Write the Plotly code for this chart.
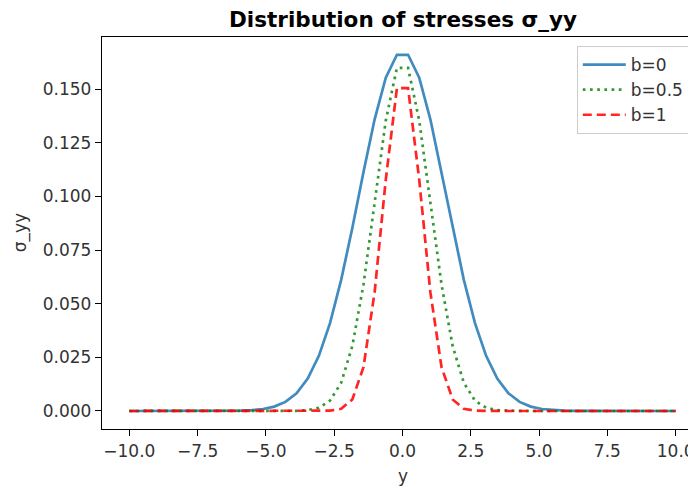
import plotly.graph_objects as go

# y positions (50 evenly spaced samples on [-10, 10])
y_pos = [-10.0, -9.592, -9.184, -8.776, -8.367, -7.959, -7.551, -7.143, -6.735, -6.327,
         -5.918, -5.510, -5.102, -4.694, -4.286, -3.878, -3.469, -3.061, -2.653, -2.245,
         -1.837, -1.429, -1.020, -0.612, -0.204, 0.204, 0.612, 1.020, 1.429, 1.837,
         2.245, 2.653, 3.061, 3.469, 3.878, 4.286, 4.694, 5.102, 5.510, 5.918,
         6.327, 6.735, 7.143, 7.551, 7.959, 8.367, 8.776, 9.184, 9.592, 10.0]

sigma_b0 = [0, 0, 0, 0, 0, 0, 0, 0.00001, 0.00002, 0.00006,
            0.00015, 0.00039, 0.00092, 0.00204, 0.00425, 0.00828, 0.01509, 0.02571, 0.04098, 0.06113,
            0.08531, 0.11136, 0.13602, 0.15540, 0.16611, 0.16611, 0.15540, 0.13602, 0.11136, 0.08531,
            0.06113, 0.04098, 0.02571, 0.01509, 0.00828, 0.00425, 0.00204, 0.00092, 0.00039, 0.00015,
            0.00006, 0.00002, 0.00001, 0, 0, 0, 0, 0, 0, 0]

sigma_b05 = [0, 0, 0, 0, 0, 0, 0, 0, 0, 0,
             0, 0, 0, 0, 0.00002, 0.00009, 0.00040, 0.00151, 0.00484, 0.01315,
             0.03025, 0.05890, 0.09709, 0.13548, 0.16003, 0.16003, 0.13548, 0.09709, 0.05890, 0.03025,
             0.01315, 0.00484, 0.00151, 0.00040, 0.00009, 0.00002, 0, 0, 0, 0,
             0, 0, 0, 0, 0, 0, 0, 0, 0, 0]

sigma_b1 = [0, 0, 0, 0, 0, 0, 0, 0, 0, 0,
            0, 0, 0, 0, 0, 0, 0, 0.00001, 0.00014, 0.00102,
            0.00538, 0.02039, 0.05542, 0.10792, 0.15059, 0.15059, 0.10792, 0.05542, 0.02039, 0.00538,
            0.00102, 0.00014, 0.00001, 0, 0, 0, 0, 0, 0, 0,
            0, 0, 0, 0, 0, 0, 0, 0, 0, 0]

series_names = ["b=0", "b=0.5", "b=1"]

x_tick_vals = [-10.0, -7.5, -5.0, -2.5, 0.0, 2.5, 5.0, 7.5, 10.0]
x_tick_text = ["\u221210.0", "\u22127.5", "\u22125.0", "\u22122.5", "0.0", "2.5", "5.0", "7.5", "10.0"]
y_tick_vals = [0.0, 0.025, 0.05, 0.075, 0.1, 0.125, 0.15]
y_tick_text = ["0.000", "0.025", "0.050", "0.075", "0.100", "0.125", "0.150"]

FONT = "DejaVu Sans"
TXT = "#333333"

fig = go.Figure()
fig.add_trace(go.Scatter(x=y_pos, y=sigma_b0, mode="lines", name=series_names[0],
                         line=dict(color="#1f77b4", width=2.7), opacity=0.85))
fig.add_trace(go.Scatter(x=y_pos, y=sigma_b05, mode="lines", name=series_names[1],
                         line=dict(color="#008000", width=2.7, dash="2.7px,4.5px"), opacity=0.8))
fig.add_trace(go.Scatter(x=y_pos, y=sigma_b1, mode="lines", name=series_names[2],
                         line=dict(color="#ff0000", width=2.7, dash="9px,5px"), opacity=0.85))

fig.update_layout(
    width=696, height=489,
    margin=dict(l=94, r=1, t=29, b=68),
    paper_bgcolor="white", plot_bgcolor="white",
    font=dict(family=FONT, size=17, color=TXT),
    showlegend=True,
    legend=dict(x=0.978, xanchor="right", y=0.977, yanchor="top",
                bgcolor="rgba(255,255,255,0.8)", bordercolor="#cccccc", borderwidth=1,
                itemwidth=43,
                font=dict(family=FONT, size=17, color=TXT)),
    annotations=[
        dict(text="<b>Distribution of stresses σ_yy</b>", xref="paper", yref="paper",
             x=0.5, y=1.0434, xanchor="center", yanchor="middle", showarrow=False,
             font=dict(family=FONT, size=21.5, color="black")),
        dict(text="y", xref="paper", yref="paper", x=0.5, y=-0.12,
             xanchor="center", yanchor="middle", showarrow=False,
             font=dict(family=FONT, size=17, color=TXT)),
        dict(text="σ_yy", xref="paper", yref="paper", x=-0.136, y=0.5, textangle=-90,
             xanchor="center", yanchor="middle", showarrow=False,
             font=dict(family=FONT, size=17, color=TXT)),
    ],
)

fig.update_xaxes(range=[-11, 11], showgrid=False, zeroline=False,
                 showline=True, linecolor="black", linewidth=1.3, mirror=True,
                 ticks="outside", ticklen=6, tickwidth=1.3, tickcolor="black",
                 tickvals=x_tick_vals, ticktext=x_tick_text,
                 tickfont=dict(family=FONT, size=17, color=TXT))
fig.update_yaxes(range=[-0.0084, 0.1744], showgrid=False, zeroline=False,
                 showline=True, linecolor="black", linewidth=1.3, mirror=True,
                 ticks="outside", ticklen=6, tickwidth=1.3, tickcolor="black",
                 tickvals=y_tick_vals, ticktext=y_tick_text,
                 tickfont=dict(family=FONT, size=17, color=TXT))

fig.write_html("out.html")
